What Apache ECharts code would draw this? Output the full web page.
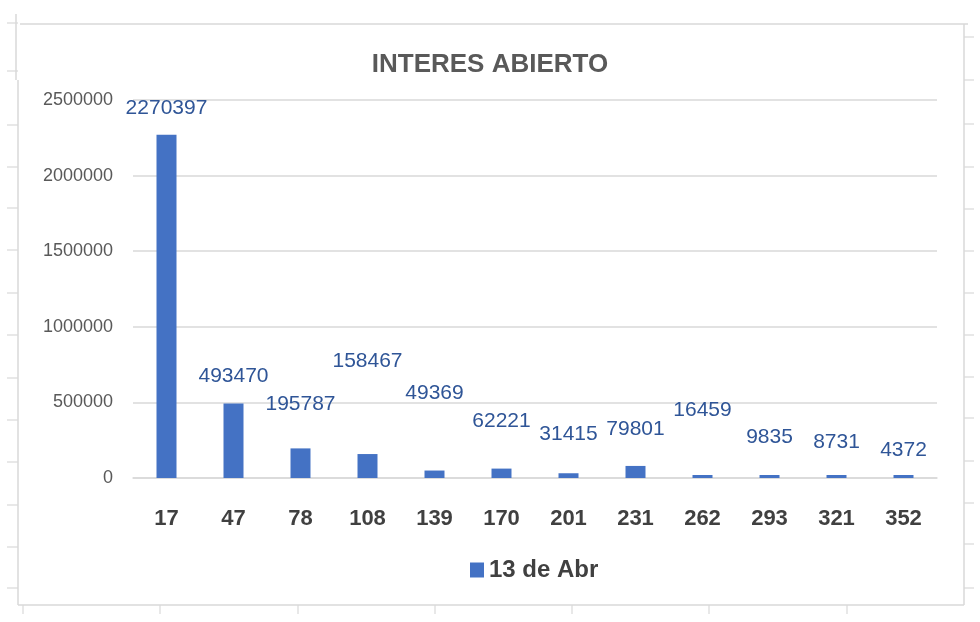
<!DOCTYPE html>
<html>
<head>
<meta charset="utf-8">
<script src="https://cdn.jsdelivr.net/npm/echarts@6/dist/echarts.min.js"></script>
<style>html,body{margin:0;padding:0;background:#fff}#c{width:980px;height:622px}</style>
</head>
<body>
<div id="c"></div>
<script>
const categories = ['17','47','78','108','139','170','201','231','262','293','321','352'];
const values = [2270397,493470,195787,158467,49369,62221,31415,79801,16459,9835,8731,4372];
const yTicks = [0,500000,1000000,1500000,2000000,2500000];
const seriesName = '13 de Abr';
const titleText = 'INTERES ABIERTO';
// label lift above each bar top (style only)
const labelLift = [28,29,46,94,79,49,41,38,66,39,34,26];

const chart = echarts.init(document.getElementById('c'));
const grey = '#d9d9d9';
const font = 'Liberation Sans';
const graphics = [];
// spreadsheet frame lines
graphics.push({type:'line',shape:{x1:20,y1:24,x2:968,y2:24},style:{stroke:grey,lineWidth:1.5}});
graphics.push({type:'line',shape:{x1:16,y1:14,x2:16,y2:80},style:{stroke:grey,lineWidth:1.5}});
graphics.push({type:'line',shape:{x1:18,y1:80,x2:18,y2:605},style:{stroke:grey,lineWidth:1.5}});
graphics.push({type:'line',shape:{x1:18,y1:605,x2:964,y2:605},style:{stroke:grey,lineWidth:1.5}});
graphics.push({type:'line',shape:{x1:964,y1:24,x2:964,y2:605},style:{stroke:grey,lineWidth:1.5}});
[23,71,125,167,208,250,293,335,378,420,462,505,547,588].forEach(y=>{
  graphics.push({type:'line',shape:{x1:7,y1:y,x2:18,y2:y},style:{stroke:grey,lineWidth:1.2}});
});
[37,80,124,167,209,251,293,335,377,418,461,503,544,588].forEach(y=>{
  graphics.push({type:'line',shape:{x1:964,y1:y,x2:974,y2:y},style:{stroke:grey,lineWidth:1.2}});
});
[23,160,298,435,572,709,847].forEach(x=>{
  graphics.push({type:'line',shape:{x1:x,y1:605,x2:x,y2:614},style:{stroke:grey,lineWidth:1.2}});
});

chart.setOption({
  animation:false,
  title:{text:titleText,left:'center',top:47,
    textStyle:{fontFamily:font,fontSize:26,fontWeight:'bold',color:'#595959'}},
  legend:{data:[seriesName],top:553,left:465,itemWidth:14,itemHeight:15,icon:'rect',itemGap:9,
    textStyle:{fontFamily:font,fontSize:24,fontWeight:'bold',color:'#404040'}},
  grid:{left:133,right:43,top:100,bottom:144},
  xAxis:{type:'category',data:categories,
    axisLine:{lineStyle:{color:grey,width:1.5}},axisTick:{show:false},
    axisLabel:{margin:30,fontFamily:font,fontSize:22,fontWeight:'bold',color:'#404040'}},
  yAxis:{type:'value',min:0,max:2500000,interval:500000,
    axisLine:{show:false},axisTick:{show:false},
    splitLine:{lineStyle:{color:grey,width:1.5}},
    axisLabel:{margin:20,fontFamily:font,fontSize:18,color:'#595959',
      formatter:v=>yTicks.includes(v)?String(v):''}},
  graphic:graphics,
  series:[{name:seriesName,type:'bar',barWidth:20,barMinHeight:3,
    itemStyle:{color:'#4472C4'},
    data:values.map((v,i)=>({value:v,label:{distance:labelLift[i]-12}})),
    label:{show:true,position:'top',fontFamily:font,fontSize:21,color:'#2F5597'}
  }]
});
</script>
</body>
</html>
